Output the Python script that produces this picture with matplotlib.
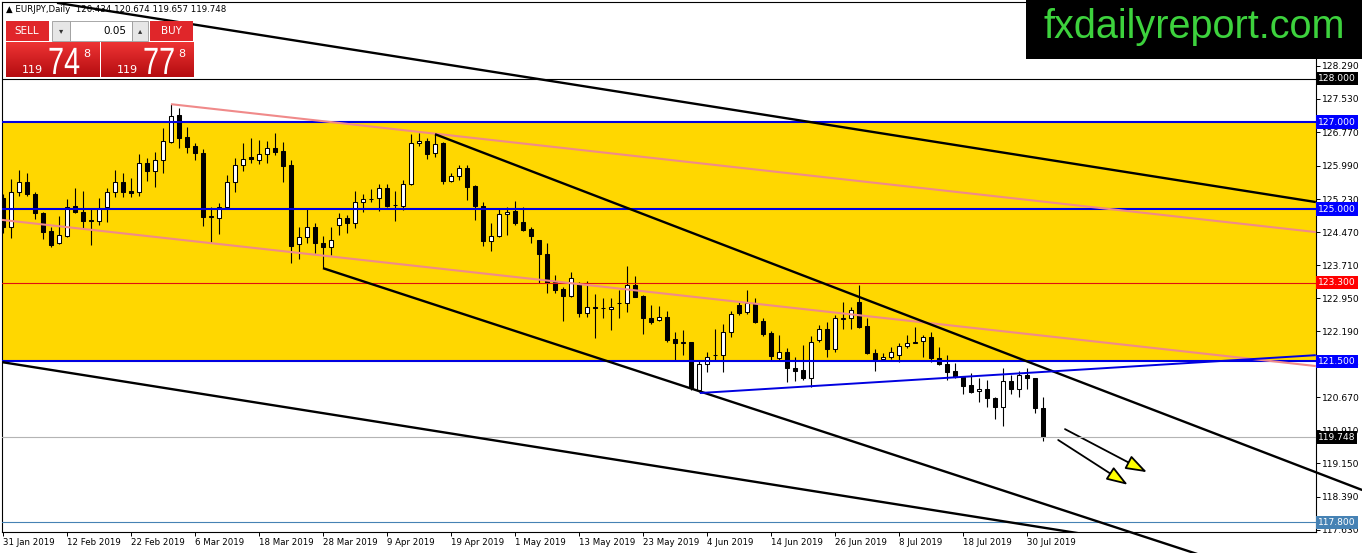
import numpy as np
import pandas as pd
import matplotlib
matplotlib.use('Agg')
import matplotlib.pyplot as plt
from matplotlib.patches import Rectangle, PathPatch
from matplotlib.colors import LinearSegmentedColormap
from matplotlib.textpath import TextPath
from matplotlib.font_manager import FontProperties
from matplotlib.transforms import Affine2D, IdentityTransform

# ---- data ----
dates = pd.bdate_range('2019-01-31', '2019-08-01')

opens = [125.25, 124.59, 125.39, 125.62, 125.35, 124.91, 124.49, 124.22, 124.38, 125.07,
         124.93, 124.73, 124.72, 125.05, 125.39, 125.62, 125.41, 125.39, 126.06, 125.87,
         126.13, 126.54, 127.16, 126.65, 126.45, 126.29, 124.82, 124.79, 125.05, 125.62,
         126.01, 126.20, 126.13, 126.26, 126.40, 126.33, 126.01, 124.20, 124.36, 124.59,
         124.22, 124.13, 124.63, 124.79, 124.68, 125.16, 125.22, 125.25, 125.48, 125.09,
         125.07, 125.57, 126.52, 126.56, 126.29, 126.52, 125.64, 125.76, 125.94, 125.53,
         125.07, 124.26, 124.38, 124.89, 124.95, 124.70, 124.54, 124.29, 123.97, 123.32,
         123.16, 123.00, 123.30, 122.61, 122.73, 122.72, 122.70, 122.83, 122.84, 123.25,
         123.00, 122.49, 122.45, 122.52, 122.01, 121.92, 121.94, 120.84, 121.44, 121.64,
         121.64, 122.17, 122.79, 122.63, 122.84, 122.43, 122.15, 121.58, 121.71, 121.35,
         121.30, 121.12, 121.99, 122.24, 121.78, 122.48, 122.49, 122.86, 122.31, 121.69,
         121.55, 121.60, 121.64, 121.85, 121.93, 121.97, 122.06, 121.58, 121.44, 121.28,
         121.14, 120.95, 120.82, 120.86, 120.66, 120.45, 121.05, 120.86, 121.18, 121.12,
         120.434]
highs = [125.35, 125.69, 125.90, 125.83, 125.39, 124.93, 124.59, 124.84, 125.23, 125.48,
         125.41, 125.02, 125.25, 125.48, 125.90, 125.83, 125.71, 126.26, 126.17, 126.31,
         126.86, 127.41, 127.32, 126.89, 126.52, 126.38, 125.05, 125.14, 125.78, 126.17,
         126.52, 126.63, 126.59, 126.56, 126.75, 126.54, 126.13, 124.59, 125.02, 124.68,
         124.38, 124.59, 124.91, 124.86, 125.41, 125.35, 125.46, 125.57, 125.57, 125.41,
         125.67, 126.72, 126.75, 126.63, 126.72, 126.54, 125.83, 126.01, 126.01, 125.55,
         125.16, 124.68, 125.02, 125.05, 125.18, 125.05, 124.59, 124.29, 124.22, 123.48,
         123.21, 123.55, 123.32, 123.35, 123.05, 122.95, 122.95, 123.14, 123.69, 123.46,
         123.02, 122.79, 122.77, 122.66, 122.17, 122.22, 121.94, 121.51, 121.71, 122.24,
         122.36, 122.66, 122.86, 123.14, 122.95, 122.49, 122.20, 122.10, 121.80, 121.60,
         121.87, 122.08, 122.33, 122.40, 122.56, 122.86, 122.75, 123.25, 122.49, 121.78,
         121.69, 121.83, 121.92, 122.10, 122.29, 122.10, 122.17, 121.83, 121.64, 121.46,
         121.16, 121.23, 121.12, 121.07, 120.68, 121.35, 121.18, 121.28, 121.35, 121.12,
         120.674]
lows = [124.45, 124.33, 125.30, 125.30, 124.77, 124.31, 124.13, 124.20, 124.36, 124.91,
        124.56, 124.17, 124.63, 124.70, 125.28, 125.28, 125.28, 125.30, 125.64, 125.51,
        125.83, 126.52, 126.40, 126.29, 126.13, 124.61, 124.24, 124.43, 125.02, 125.39,
        125.87, 126.06, 126.03, 126.06, 126.24, 125.62, 123.76, 123.85, 124.22, 123.99,
        123.64, 123.94, 124.40, 124.45, 124.56, 124.93, 125.16, 124.95, 125.05, 124.72,
        124.98, 125.55, 126.45, 126.15, 126.20, 125.57, 125.62, 125.67, 125.21, 124.75,
        124.15, 124.03, 124.36, 124.40, 124.63, 124.49, 124.22, 123.30, 123.07, 123.07,
        122.43, 122.98, 122.52, 122.52, 122.03, 122.49, 122.22, 122.49, 122.63, 122.98,
        122.13, 122.36, 122.43, 121.94, 121.53, 121.64, 120.84, 120.79, 121.25, 121.53,
        121.25, 122.06, 122.56, 122.59, 122.38, 122.08, 121.53, 121.51, 121.02, 121.05,
        121.07, 120.91, 121.94, 121.60, 121.71, 122.24, 122.24, 122.26, 121.67, 121.28,
        121.53, 121.55, 121.48, 121.80, 121.92, 121.60, 121.48, 121.41, 121.07, 121.12,
        120.75, 120.77, 120.56, 120.45, 120.17, 120.01, 120.75, 120.68, 120.86, 120.31,
        119.657]
closes = [124.59, 125.39, 125.62, 125.35, 124.91, 124.47, 124.17, 124.40, 125.05, 124.93,
          124.72, 124.72, 125.02, 125.39, 125.62, 125.39, 125.37, 126.06, 125.87, 126.13,
          126.56, 127.14, 126.63, 126.43, 126.29, 124.82, 124.84, 125.05, 125.62, 126.01,
          126.15, 126.15, 126.26, 126.40, 126.31, 125.99, 124.15, 124.36, 124.59, 124.22,
          124.13, 124.29, 124.79, 124.68, 125.16, 125.23, 125.24, 125.48, 125.07, 125.08,
          125.57, 126.52, 126.56, 126.26, 126.49, 125.64, 125.76, 125.94, 125.51, 125.07,
          124.26, 124.38, 124.89, 124.93, 124.68, 124.52, 124.38, 123.97, 123.30, 123.14,
          123.00, 123.41, 122.61, 122.75, 122.72, 122.73, 122.75, 122.84, 123.25, 122.98,
          122.49, 122.40, 122.52, 121.99, 121.92, 121.93, 120.89, 121.44, 121.60, 121.65,
          122.17, 122.59, 122.61, 122.84, 122.40, 122.13, 121.62, 121.71, 121.35, 121.28,
          121.12, 121.94, 122.24, 121.78, 122.49, 122.50, 122.68, 122.29, 121.69, 121.53,
          121.60, 121.71, 121.85, 121.92, 121.94, 122.06, 121.58, 121.44, 121.25, 121.14,
          120.93, 120.79, 120.86, 120.66, 120.45, 121.05, 120.86, 121.18, 121.12, 120.43,
          119.748]

price_ticks = [117.630, 118.390, 119.150, 119.910, 120.670, 121.430, 122.190, 122.950,
               123.710, 124.470, 125.230, 125.990, 126.770, 127.530, 128.290]

# horizontal levels and their label colours
levels = [128.000, 127.000, 125.000, 123.300, 121.500, 119.748, 117.800]
level_colors = ['#000000', '#0000ff', '#0000ff', '#ff0000', '#0000ff', '#000000', '#4682b4']
zone = (121.5, 127.0)

# trend lines as (bar0, price0, bar1, price1)
upper_long = (6.75, 129.74, 164.1, 125.16)
lower_long = (-0.125, 121.48, 164.1, 116.68)
pink_upper = (21.0, 127.41, 164.1, 124.47)
pink_lower = (-0.125, 124.75, 164.1, 121.39)
chan_upper = (54.0, 126.72, 169.9, 118.54)
chan_lower = (40.0, 123.64, 149.6, 117.05)
blue_trend = (87.1, 120.77, 164.1, 121.64)
arrows = [(132.75, 119.94, 143.0, 118.95), (131.9, 119.69, 140.6, 118.66)]

symbol_title = '\u25b2 EURJPY,Daily  120.434 120.674 119.657 119.748'
bid_big, ask_big = '74', '77'

# ---- figure ----
W, H = 1362, 553
fig = plt.figure(figsize=(W / 100, H / 100), dpi=100)
fig.patch.set_facecolor('white')
ax = fig.add_axes([2 / W, 21 / H, 1314 / W, 530 / H])
ax.set_xlim(-0.125, 164.125)
ax.set_ylim(117.575, 129.759)
ax.set_facecolor('white')

x = np.arange(len(dates))
o = np.array(opens)
c = np.array(closes)
up = c >= o

ax.axhspan(zone[0], zone[1], color='#ffd700', zorder=0, lw=0)

ax.vlines(x, lows, highs, color='black', lw=0.8, zorder=2)
body = np.where(np.abs(c - o) < 0.012, 0.012, c - o)
ax.bar(x, body, bottom=o, width=0.62, color=np.where(up, 'white', 'black'),
       edgecolor='black', lw=0.75, zorder=3)

# level lines
ax.axhline(128.0, color='black', lw=0.8, zorder=4)
for lvl in (127.0, 125.0, 121.5):
    ax.axhline(lvl, color='#0000e0', lw=1.5, zorder=4)
ax.axhline(123.3, color='#e01010', lw=0.8, zorder=4)
ax.axhline(119.748, color='#b4b4b4', lw=0.8, zorder=4)
ax.axhline(117.8, color='#4682b4', lw=0.8, zorder=4)


def seg(line, clip=True, **kw):
    b0, p0, b1, p1 = line
    ax.plot([b0, b1], [p0, p1], solid_capstyle='butt', clip_on=clip, **kw)


seg(pink_upper, color='#f08a8a', lw=1.5, zorder=5)
seg(pink_lower, color='#f08a8a', lw=1.5, zorder=5)
seg(upper_long, color='black', lw=1.7, zorder=6)
seg(lower_long, color='black', lw=1.7, zorder=6)
seg(chan_upper, clip=False, color='black', lw=1.7, zorder=6)
seg(chan_lower, clip=False, color='black', lw=1.7, zorder=6)
seg(blue_trend, color='#0000e0', lw=1.4, zorder=6)

for b0, p0, b1, p1 in arrows:
    ax.annotate('', xy=(b1, p1), xytext=(b0, p0), annotation_clip=False,
                arrowprops=dict(arrowstyle='-|>,head_length=1.3,head_width=0.45',
                                fc='#ffff00', ec='black', lw=1.3,
                                shrinkA=0, shrinkB=0, mutation_scale=10))

# axes styling
for s in ax.spines.values():
    s.set_color('black')
    s.set_linewidth(0.8)
ax.yaxis.tick_right()
ax.set_yticks(price_ticks)
ax.set_yticklabels([f'{p:.3f}' for p in price_ticks])
ax.tick_params(axis='y', direction='out', length=3, width=0.7, pad=1.5,
               labelsize=6.6, colors='black')

tick_idx = list(range(0, len(dates), 8))
ax.set_xticks(tick_idx)
ax.set_xticklabels([f'{dates[i].day} {dates[i].strftime("%b %Y")}' for i in tick_idx])
ax.tick_params(axis='x', direction='out', length=3, width=0.7, pad=1.5,
               labelsize=6.2, colors='black')
for lab in ax.get_xticklabels():
    lab.set_ha('left')

ytr = ax.get_yaxis_transform()
for lvl, col in zip(levels, level_colors):
    ax.text(1.0015, lvl, f'{lvl:.3f}', transform=ytr, ha='left', va='center',
            fontsize=6.6, color='white', zorder=10, clip_on=False,
            bbox=dict(boxstyle='square,pad=0.22', fc=col, ec='none'))


# ---- overlay widgets in pixel coordinates ----
def fx(px):
    return px / W


def fy(py):
    return 1 - py / H


def prect(x0, y0, x1, y1, **kw):
    fig.add_artist(Rectangle((fx(x0), fy(y1)), (x1 - x0) / W, (y1 - y0) / H,
                             transform=fig.transFigure, **kw))


def ptext(xp, yp, s, **kw):
    fig.text(fx(xp), fy(yp), s, **kw)


def narrow_text(xp, yp, s, size, sx):
    # condensed glyphs like the MT4 one-click panel
    tp = TextPath((0, 0), s, size=size, prop=FontProperties(family='Liberation Sans'))
    tr = Affine2D().scale(sx, 1).translate(xp, H - yp) + IdentityTransform()
    fig.add_artist(PathPatch(tp, transform=tr, fc='white', ec='none', zorder=22))


ptext(6, 10, symbol_title, fontsize=6.2, va='center', ha='left', color='black')

red_cmap = LinearSegmentedColormap.from_list('btn', ['#ee3434', '#b40c10'])
grad = np.linspace(0, 1, 64).reshape(-1, 1)

prect(6, 21, 49, 41, fc='#e0262a', ec='none', zorder=20)
prect(150, 21, 193, 41, fc='#e0262a', ec='none', zorder=20)
prect(52, 21, 70, 41, fc='#e6e6e6', ec='#9a9a9a', lw=0.6, zorder=20)
prect(70, 21, 132, 41, fc='white', ec='#9a9a9a', lw=0.6, zorder=20)
prect(132, 21, 148, 41, fc='#e6e6e6', ec='#9a9a9a', lw=0.6, zorder=20)
ptext(27, 31, 'SELL', fontsize=7.5, color='white', ha='center', va='center', zorder=21)
ptext(171, 31, 'BUY', fontsize=7.5, color='white', ha='center', va='center', zorder=21)
ptext(61, 31, '\u25be', fontsize=6, color='#333333', ha='center', va='center', zorder=21)
ptext(140, 31, '\u25b4', fontsize=6, color='#333333', ha='center', va='center', zorder=21)
ptext(126, 31, '0.05', fontsize=7.5, color='black', ha='right', va='center', zorder=21)

for x0, x1, big in ((6, 99, bid_big), (101, 193, ask_big)):
    bax = fig.add_axes([fx(x0), fy(77), (x1 - x0) / W, 35 / H], zorder=20)
    bax.imshow(grad, aspect='auto', cmap=red_cmap, extent=(0, 1, 0, 1))
    bax.set_axis_off()
    ptext(x0 + 16, 73, '119', fontsize=8, color='white', ha='left', va='baseline', zorder=21)
    narrow_text(x0 + 42, 74, big, 38, 0.76)
    ptext(x0 + 77, 57, '8', fontsize=8, color='white', ha='left', va='baseline', zorder=21)

prect(1026, 0, 1362, 59, fc='black', ec='none', zorder=20)
ptext(1194, 38, 'fxdailyreport.com', fontsize=28.5, family='Liberation Sans',
      color='#3dd23d', ha='center', va='baseline', zorder=21)

fig.savefig('out.png', dpi=100, facecolor='white')
